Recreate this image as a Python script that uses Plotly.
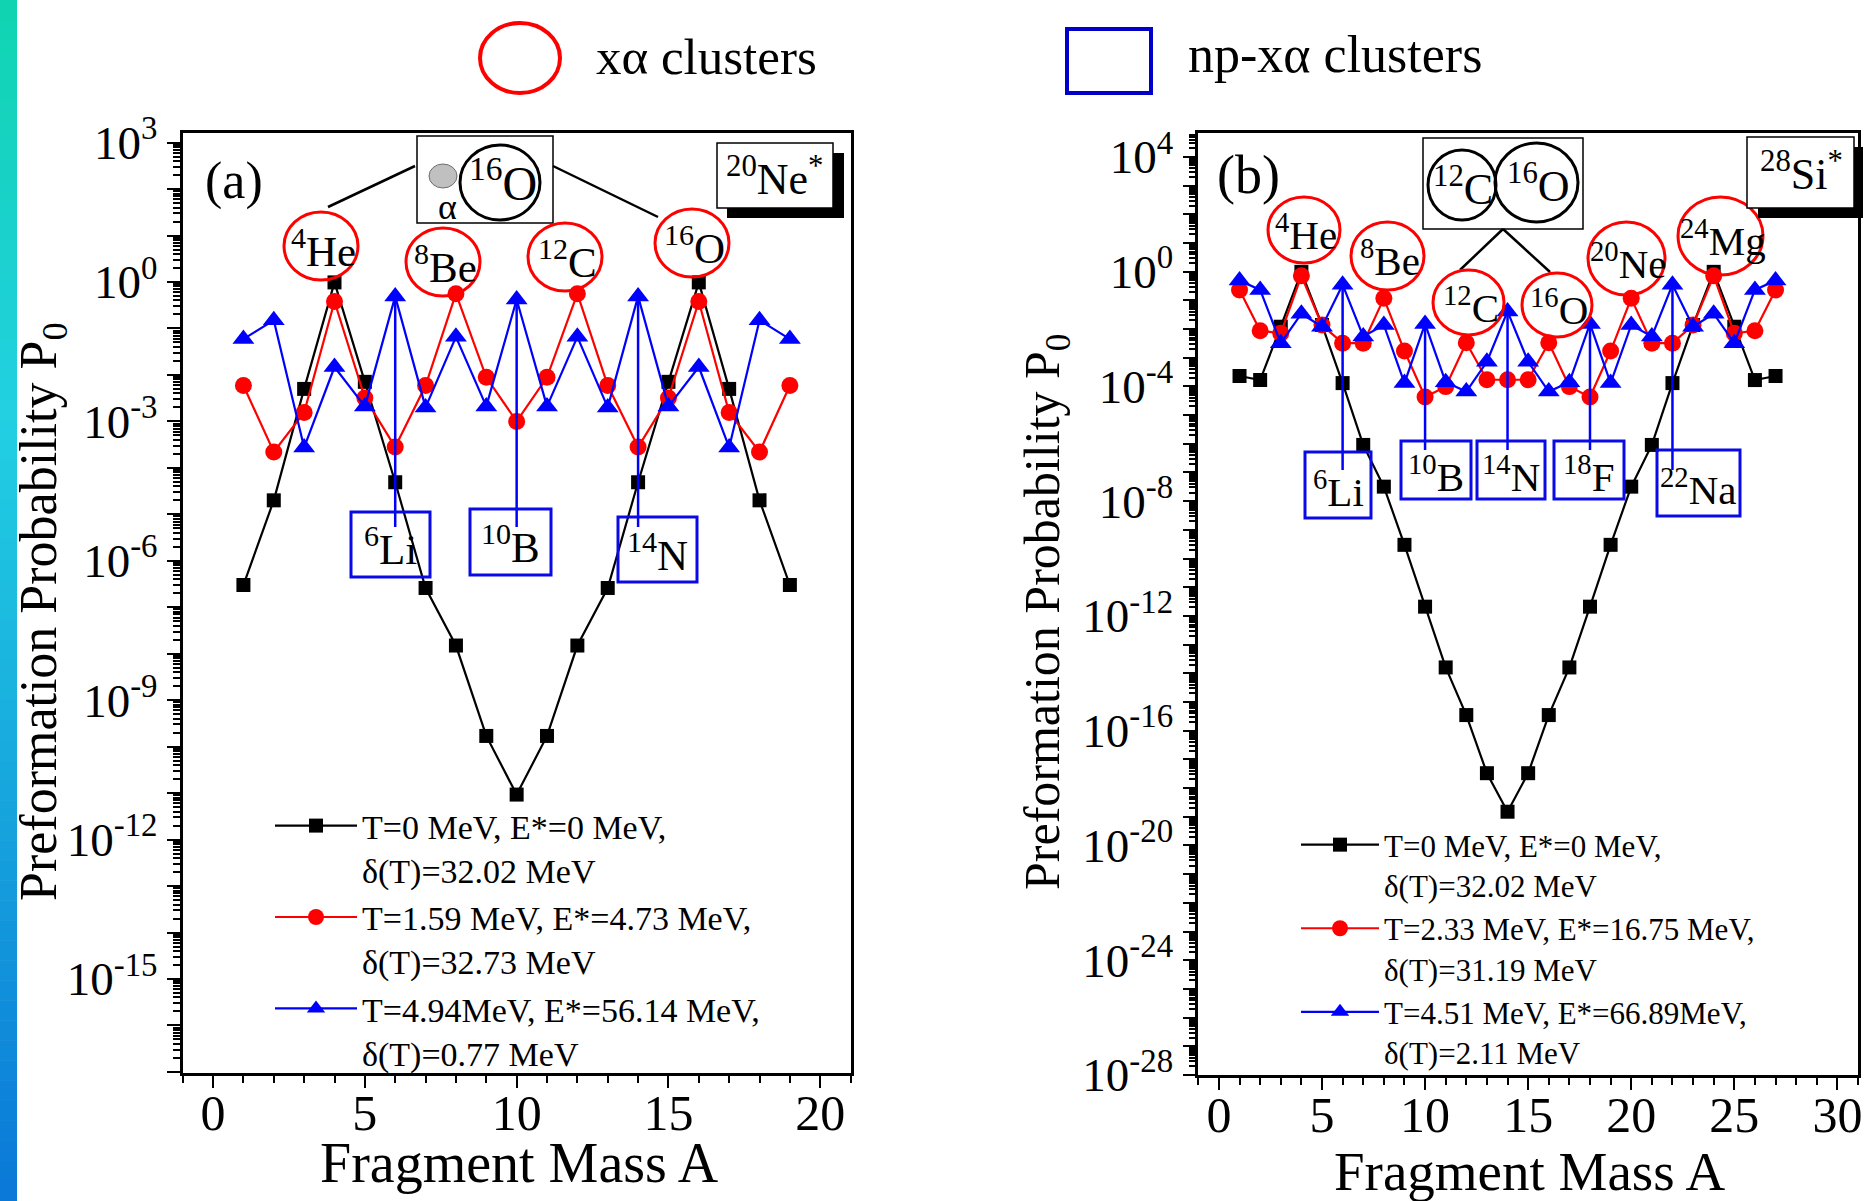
import math
import plotly.graph_objects as go

W, H = 1864, 1201
FONT = "Liberation Serif"

# ---------------- data ----------------
A_a = list(range(1, 20))
p0_a_T0 = [3.0e-7, 2.0e-5, 5.0e-3, 0.98, 7.1e-3, 4.9e-5, 2.6e-7, 1.5e-8, 1.7e-10, 9.3e-12,
           1.7e-10, 1.5e-8, 2.6e-7, 4.9e-5, 7.1e-3, 0.98, 5.0e-3, 2.0e-5, 3.0e-7]
p0_a_T1 = [5.9e-3, 2.2e-4, 1.55e-3, 0.38, 3.2e-3, 2.8e-4, 5.9e-3, 0.56, 8.9e-3, 1.0e-3,
           8.9e-3, 0.56, 5.9e-3, 2.8e-4, 3.2e-3, 0.38, 1.55e-3, 2.2e-4, 5.9e-3]
p0_a_T2 = [0.059, 0.15, 2.75e-4, 0.0148, 2.1e-3, 0.49, 2.0e-3, 0.066, 2.1e-3, 0.42,
           2.1e-3, 0.066, 2.0e-3, 0.49, 2.1e-3, 0.0148, 2.75e-4, 0.15, 0.059]

A_b = list(range(1, 28))
p0_b_T0 = [2.3e-4, 1.66e-4, 0.012, 0.98, 0.0138, 1.3e-4, 9.1e-7, 3.2e-8, 3.0e-10, 2.1e-12,
           1.6e-14, 3.5e-16, 3.3e-18, 1.5e-19, 3.3e-18, 3.5e-16, 1.6e-14, 2.1e-12, 3.0e-10,
           3.2e-8, 9.1e-7, 1.3e-4, 0.0138, 0.98, 0.012, 1.66e-4, 2.3e-4]
p0_b_T1 = [0.23, 8.7e-3, 7.1e-3, 0.71, 0.0138, 3.2e-3, 3.2e-3, 0.117, 1.7e-3, 4.3e-5,
           9.8e-5, 3.3e-3, 1.7e-4, 1.7e-4, 1.7e-4, 3.3e-3, 9.8e-5, 4.3e-5, 1.7e-3,
           0.117, 3.2e-3, 3.2e-3, 0.0138, 0.71, 7.1e-3, 8.7e-3, 0.23]
p0_b_T2 = [0.49, 0.23, 3.2e-3, 0.034, 0.012, 0.35, 5.5e-3, 0.0138, 1.3e-4, 0.015,
           1.4e-4, 6.6e-5, 7.2e-4, 0.041, 7.2e-4, 6.6e-5, 1.4e-4, 0.015, 1.3e-4,
           0.0138, 5.5e-3, 0.35, 0.012, 0.034, 3.2e-3, 0.23, 0.49]

names_a = ["T=0 MeV, E*=0 MeV,<br>δ(T)=32.02 MeV",
           "T=1.59 MeV, E*=4.73 MeV,<br>δ(T)=32.73 MeV",
           "T=4.94MeV, E*=56.14 MeV,<br>δ(T)=0.77 MeV"]
names_b = ["T=0 MeV, E*=0 MeV,<br>δ(T)=32.02 MeV",
           "T=2.33 MeV, E*=16.75 MeV,<br>δ(T)=31.19 MeV",
           "T=4.51 MeV, E*=66.89MeV,<br>δ(T)=2.11 MeV"]

ytick_exp_a = [3, 0, -3, -6, -9, -12, -15]
ytick_exp_b = [4, 0, -4, -8, -12, -16, -20, -24, -28]

# np-xalpha labels (fragment mass -> label)
np_a = {6: "<sup>6</sup>Li", 10: "<sup>10</sup>B", 14: "<sup>14</sup>N"}
np_b = {6: "<sup>6</sup>Li", 10: "<sup>10</sup>B", 14: "<sup>14</sup>N",
        18: "<sup>18</sup>F", 22: "<sup>22</sup>Na"}

# ---------------- geometry ----------------
PANEL = {
    "a": dict(xr=(-1, 21), yr=(-17.03, 3.2), xd=(182.7 / W, 850.6 / W), yd=(1 - 1073.3 / H, 1 - 133.3 / H)),
    "b": dict(xr=(-1, 31), yr=(-28.0, 4.82), xd=(1198.3 / W, 1858.0 / W), yd=(1 - 1075.0 / H, 1 - 133.3 / H)),
}


def px(x):
    return x / W


def py(y):
    return 1 - y / H


def data_paper(panel, x, v):
    p = PANEL[panel]
    fx = (x - p["xr"][0]) / (p["xr"][1] - p["xr"][0])
    fy = (math.log10(v) - p["yr"][0]) / (p["yr"][1] - p["yr"][0])
    return (p["xd"][0] + fx * (p["xd"][1] - p["xd"][0]),
            p["yd"][0] + fy * (p["yd"][1] - p["yd"][0]))


fig = go.Figure()

styles = [
    dict(color="black", symbol="square", size=14),
    dict(color="red", symbol="circle", size=17),
    dict(color="blue", symbol="triangle-up", size=19),
]

for i, ys in enumerate([p0_a_T0, p0_a_T1, p0_a_T2]):
    s = styles[i]
    fig.add_trace(go.Scatter(x=A_a, y=ys, mode="lines+markers", name=names_a[i],
                             line=dict(color=s["color"], width=2.2),
                             marker=dict(color=s["color"], symbol=s["symbol"], size=s["size"]),
                             xaxis="x", yaxis="y", legend="legend"))
for i, ys in enumerate([p0_b_T0, p0_b_T1, p0_b_T2]):
    s = styles[i]
    fig.add_trace(go.Scatter(x=A_b, y=ys, mode="lines+markers", name=names_b[i],
                             line=dict(color=s["color"], width=2.2),
                             marker=dict(color=s["color"], symbol=s["symbol"], size=s["size"]),
                             xaxis="x2", yaxis="y2", legend="legend2"))


def yaxis_cfg(panel, exps):
    p = PANEL[panel]
    lo, hi = math.floor(p["yr"][0]), math.ceil(p["yr"][1])
    major = [10.0 ** k for k in range(lo, hi + 1)]
    text = [("10<sup>%d</sup>" % k) if k in exps else " " for k in range(lo, hi + 1)]
    minor = [m * 10.0 ** k for k in range(lo, hi) for m in range(2, 10)]
    return dict(type="log", range=list(p["yr"]), domain=list(p["yd"]), automargin=False,
                tickmode="array", tickvals=major, ticktext=text,
                ticks="outside", ticklen=13, tickwidth=2, tickcolor="black",
                minor=dict(tickmode="array", tickvals=minor, ticks="outside", ticklen=7,
                           tickwidth=1.5, tickcolor="black"),
                showline=True, linewidth=2.5, linecolor="black", mirror=True,
                showgrid=False, zeroline=False,
                tickfont=dict(family=FONT, size=47, color="black"))


def xaxis_cfg(panel, ticks):
    p = PANEL[panel]
    return dict(range=list(p["xr"]), domain=list(p["xd"]), automargin=False,
                tickmode="array", tickvals=ticks,
                ticks="outside", ticklen=12, tickwidth=2, tickcolor="black",
                ticklabelstandoff=-18,
                minor=dict(dtick=1, tick0=0, ticks="outside", ticklen=7, tickwidth=1.5,
                           tickcolor="black"),
                showline=True, linewidth=2.5, linecolor="black", mirror=True,
                showgrid=False, zeroline=False,
                tickfont=dict(family=FONT, size=50, color="black"))


shapes = []
annotations = []

# left gradient stripe
stops = [(0.0, (16, 212, 176)), (0.35, (34, 208, 226)), (1.0, (10, 120, 216))]
NSTRIP = 60
for k in range(NSTRIP):
    t = (k + 0.5) / NSTRIP
    for j in range(len(stops) - 1):
        if stops[j][0] <= t <= stops[j + 1][0]:
            f = (t - stops[j][0]) / (stops[j + 1][0] - stops[j][0])
            c = tuple(int(round(stops[j][1][q] + f * (stops[j + 1][1][q] - stops[j][1][q]))) for q in range(3))
            break
    shapes.append(dict(type="rect", xref="paper", yref="paper", x0=0, x1=px(17),
                       y0=py(H * (k + 1) / NSTRIP), y1=py(H * k / NSTRIP) + 0.0005,
                       fillcolor="rgb(%d,%d,%d)" % c, line=dict(width=0), layer="below"))


def rect(x0, y0, x1, y1, color="black", width=2, fill=None):
    shapes.append(dict(type="rect", xref="paper", yref="paper", x0=px(x0), x1=px(x1),
                       y0=py(y1), y1=py(y0), line=dict(color=color, width=width),
                       fillcolor=fill if fill else "rgba(0,0,0,0)", layer="above"))


def ellipse(x0, y0, x1, y1, color="red", width=3, fill=None):
    shapes.append(dict(type="circle", xref="paper", yref="paper", x0=px(x0), x1=px(x1),
                       y0=py(y1), y1=py(y0), line=dict(color=color, width=width),
                       fillcolor=fill if fill else "rgba(0,0,0,0)", layer="above"))


def seg(x0, y0, x1, y1, color="black", width=2.5):
    shapes.append(dict(type="line", xref="paper", yref="paper", x0=px(x0), x1=px(x1),
                       y0=py(y0), y1=py(y1), line=dict(color=color, width=width), layer="above"))


def text(x, y, t, size, color="black", xanchor="center"):
    annotations.append(dict(xref="paper", yref="paper", x=px(x), y=py(y), text=t,
                            showarrow=False, xanchor=xanchor, yanchor="middle",
                            font=dict(family=FONT, size=size, color=color)))


# ---- top legend ----
ellipse(480, 23, 560, 93, color="red", width=4)
text(594, 57, "xα clusters", 51, xanchor="left")
rect(1067, 29, 1151, 93, color="rgb(0,0,200)", width=4)
text(1186, 55, "np-xα clusters", 52, xanchor="left")

# ---- panel (a) ----
text(234, 181, "(a)", 52)
rect(417, 136, 553, 223, width=1.5, fill="white")
ellipse(429, 164, 457, 188, color="rgb(110,110,110)", width=1, fill="rgb(192,192,192)")
text(447, 207, "α", 36)
ellipse(460, 145, 540, 220, color="black", width=3)
text(503, 180, "<sup>16</sup>O", 48)
seg(415, 166, 328, 207)
seg(553, 166, 658, 217)

for (cx, cy, lab) in [(321, 246, "<sup>4</sup>He"), (443, 262, "<sup>8</sup>Be"),
                      (565, 257, "<sup>12</sup>C"), (692, 243, "<sup>16</sup>O")]:
    ellipse(cx - 37, cy - 34, cx + 37, cy + 34)
    text(cx + 2, cy + 2, lab, 43)

rect(727, 153, 844, 218, color="black", width=0, fill="black")
rect(717, 143, 833, 208, color="black", width=1.5, fill="white")
text(775, 177, "<sup>20</sup>Ne<sup>*</sup>", 44)

boxes_a = {6: (351, 512, 430, 577, 527), 10: (470, 509, 551, 575, 527), 14: (618, 517, 697, 582, 527)}
for Am, (x0, y0, x1, y1, yend) in boxes_a.items():
    vx, vy = data_paper("a", Am, p0_a_T2[A_a.index(Am)])
    shapes.append(dict(type="line", xref="paper", yref="paper", x0=vx, x1=vx, y0=vy, y1=py(yend),
                       line=dict(color="blue", width=2.5), layer="above"))
    rect(x0, y0, x1, y1, color="rgb(10,10,230)", width=3)
    text((x0 + x1) / 2, (y0 + y1) / 2 + 2, np_a[Am], 43)

# ---- panel (b) ----
text(1248, 175, "(b)", 54)
rect(1423, 138, 1583, 229, width=1.5, fill="white")
ellipse(1428, 150, 1496, 220, color="black", width=3)
ellipse(1495, 143, 1578, 222, color="black", width=3)
text(1463, 187, "<sup>12</sup>C", 44)
text(1538, 183, "<sup>16</sup>O", 44)
seg(1503, 229, 1460, 270)
seg(1503, 229, 1550, 272)

for (x0, y0, x1, y1, lab) in [(1268, 197, 1340, 263, "<sup>4</sup>He"), (1351, 222, 1424, 290, "<sup>8</sup>Be"),
                              (1433, 270, 1504, 335, "<sup>12</sup>C"), (1522, 273, 1592, 337, "<sup>16</sup>O"),
                              (1588, 222, 1665, 295, "<sup>20</sup>Ne"), (1678, 197, 1763, 275, "<sup>24</sup>Mg")]:
    ellipse(x0, y0, x1, y1)
    text((x0 + x1) / 2 + 2, (y0 + y1) / 2 + 2, lab, 41)

rect(1758, 147, 1863, 218, color="black", width=0, fill="black")
rect(1747, 137, 1854, 208, color="black", width=1.5, fill="white")
text(1801, 172, "<sup>28</sup>Si<sup>*</sup>", 44)

boxes_b = {6: (1305, 452, 1371, 518, 470), 10: (1401, 441, 1471, 499, 450), 14: (1477, 441, 1545, 499, 450),
           18: (1554, 441, 1624, 499, 450), 22: (1657, 450, 1740, 516, 470)}
for Am, (x0, y0, x1, y1, yend) in boxes_b.items():
    vx, vy = data_paper("b", Am, p0_b_T2[A_b.index(Am)])
    shapes.append(dict(type="line", xref="paper", yref="paper", x0=vx, x1=vx, y0=vy, y1=py(yend),
                       line=dict(color="blue", width=2.5), layer="above"))
    rect(x0, y0, x1, y1, color="rgb(10,10,230)", width=3)
    text((x0 + x1) / 2, (y0 + y1) / 2 + 4, np_b[Am], 41)

# ---- axis titles ----
annotations.append(dict(xref="paper", yref="paper", x=px(42), y=py(612), textangle=-90,
                        xanchor="center", yanchor="middle",
                        text="Preformation Probability P<sub>0</sub>", showarrow=False,
                        font=dict(family=FONT, size=52, color="black")))
annotations.append(dict(xref="paper", yref="paper", x=px(1046), y=py(612), textangle=-90,
                        xanchor="center", yanchor="middle",
                        text="Preformation Probability P<sub>0</sub>", showarrow=False,
                        font=dict(family=FONT, size=50, color="black")))
text(519, 1163, "Fragment Mass A", 56)
text(1529, 1171, "Fragment Mass A", 55)

fig.update_layout(
    width=W, height=H,
    margin=dict(l=0, r=0, t=0, b=0, autoexpand=False),
    paper_bgcolor="white", plot_bgcolor="white",
    font=dict(family=FONT, color="black"),
    xaxis=dict(anchor="y", **xaxis_cfg("a", [0, 5, 10, 15, 20])),
    yaxis=dict(anchor="x", **yaxis_cfg("a", ytick_exp_a)),
    xaxis2=dict(anchor="y2", **xaxis_cfg("b", [0, 5, 10, 15, 20, 25, 30])),
    yaxis2=dict(anchor="x2", **yaxis_cfg("b", ytick_exp_b)),
    legend=dict(x=px(270), y=py(797), xanchor="left", yanchor="top", valign="top",
                bgcolor="rgba(0,0,0,0)", borderwidth=0, itemwidth=82,
                font=dict(family=FONT, size=34, color="black")),
    legend2=dict(x=px(1296), y=py(818), xanchor="left", yanchor="top", valign="top",
                 bgcolor="rgba(0,0,0,0)", borderwidth=0, itemwidth=78,
                 font=dict(family=FONT, size=31, color="black")),
    shapes=shapes,
    annotations=annotations,
)

fig.write_html("out.html")
